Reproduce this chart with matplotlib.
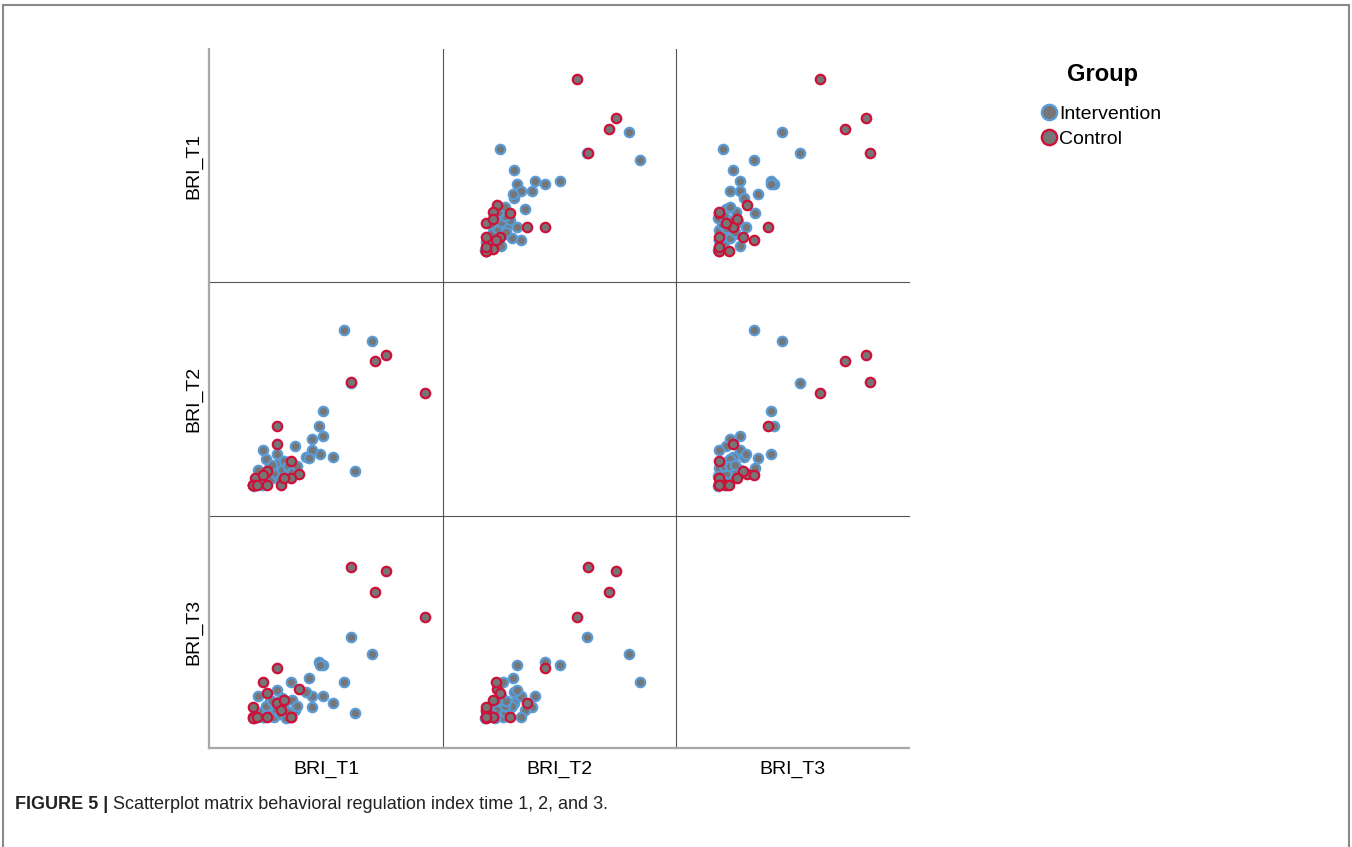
import matplotlib
matplotlib.use("Agg")
import matplotlib.pyplot as plt
from matplotlib.lines import Line2D
from matplotlib.patches import Rectangle

plt.rcParams['font.family'] = ['Liberation Sans', 'DejaVu Sans']

# Behavioral regulation index at three time points, one entry per child
variables = ['BRI_T1', 'BRI_T2', 'BRI_T3']

intervention_t1 = [150, 122, 133, 129, 111.5, 101, 97.5, 101, 98, 90.5, 90.5, 84, 87.5, 73, 41.5, 69,
                   32, 35, 38, 40, 42, 45, 47, 50, 52, 54, 56, 58, 60, 62, 64, 66, 48, 44, 36, 55, 70, 75, 50]
intervention_t2 = [174, 185, 44.5, 132, 58.5, 79.5, 90, 104.5, 62, 66, 76.5, 59, 58, 70, 66, 48,
                   30, 33, 36, 31, 40, 35, 44, 38, 48, 42, 52, 36, 46, 55, 40, 50, 51, 57, 46, 62, 44, 50, 51]
intervention_t3 = [94, 66, 35, 111.5, 45, 52, 86, 83, 83, 52, 41.5, 56, 70, 38, 31, 66.5,
                   30, 31, 33, 36, 31, 40, 35, 44, 31, 38, 46, 34, 50, 40, 30, 36, 47, 42, 52, 58, 48, 42, 47]

control_t1 = [203, 164, 153, 129, 55, 55, 69.3, 77, 69.5, 45, 59, 45, 31, 33, 62.5, 41.5, 31, 31, 35]
control_t2 = [122, 160.5, 154, 133, 72, 90, 55, 42, 38, 45, 31, 30.5, 31, 38, 38, 41, 30.5, 30.5, 31]
control_t3 = [132, 177.5, 156.5, 181.5, 45, 80, 31, 59, 31, 55, 38, 31, 31, 31, 48.5, 66, 41, 30.5, 31]

intervention = [intervention_t1, intervention_t2, intervention_t3]
control = [control_t1, control_t2, control_t3]

W, H = 1352, 847
fig = plt.figure(figsize=(W / 100, H / 100), dpi=100)

col_left = [209, 443, 676]
col_width = [234, 233, 233]
row_top = [49, 282, 516]
row_height = [233, 234, 232]

fill = '#767676'
blue = '#5b9bd5'
red = '#cc1238'
outer_line = '#a8a8a8'
inner_line = '#555555'

for i in range(3):
    for j in range(3):
        ax = fig.add_axes([col_left[j] / W, 1 - (row_top[i] + row_height[i]) / H,
                           col_width[j] / W, row_height[i] / H])
        ax.patch.set_visible(False)
        ax.set_xlim(-12.5, 221)
        ax.set_ylim(0, 233)
        ax.set_xticks([])
        ax.set_yticks([])
        ax.spines['top'].set_visible(False)
        ax.spines['right'].set_visible(False)
        if j == 0:
            ax.spines['left'].set_color(outer_line)
            ax.spines['left'].set_linewidth(1.6)
            ax.set_ylabel(variables[i], fontsize=14, labelpad=5)
        else:
            ax.spines['left'].set_color(inner_line)
            ax.spines['left'].set_linewidth(0.8)
        if i == 2:
            ax.spines['bottom'].set_color(outer_line)
            ax.spines['bottom'].set_linewidth(1.6)
            ax.set_xlabel(variables[j], fontsize=14, labelpad=9)
        else:
            ax.spines['bottom'].set_color(inner_line)
            ax.spines['bottom'].set_linewidth(0.8)
        if i == j:
            continue
        ax.scatter(intervention[j], intervention[i], s=46, c=fill, edgecolors=blue,
                   linewidths=1.6, zorder=2, clip_on=False)
        ax.scatter(control[j], control[i], s=46, c=fill, edgecolors=red,
                   linewidths=1.6, zorder=3, clip_on=False)

# Group legend
fig.text(1103 / W, 1 - 74 / H, 'Group', fontsize=17, fontweight='bold', ha='center', va='center')
handles = [Line2D([], [], ls='none', marker='o', markersize=11, markerfacecolor=fill,
                  markeredgecolor=blue, markeredgewidth=1.7),
           Line2D([], [], ls='none', marker='o', markersize=11, markerfacecolor=fill,
                  markeredgecolor=red, markeredgewidth=1.7)]
leg = fig.legend(handles, ['Intervention', 'Control'], loc='upper left',
                 bbox_to_anchor=(1039 / W, 1 - 105 / H), frameon=False, fontsize=14,
                 handletextpad=0.05, handlelength=1.0, labelspacing=0.4, borderpad=0,
                 borderaxespad=0)

# outer frame of the figure panel
fig.add_artist(Rectangle((3 / W, -0.01), 1346 / W, 1 - 5 / H + 0.01, transform=fig.transFigure,
                         fill=False, edgecolor='#8a8a8a', linewidth=1.5))

# caption
bold = fig.text(15 / W, 1 - 809 / H, 'FIGURE 5 |', fontsize=13, fontweight='bold',
                color='#222222', va='baseline')
fig.canvas.draw()
bb = bold.get_window_extent()
fig.text((bb.x1 + 5) / W, 1 - 809 / H, 'Scatterplot matrix behavioral regulation index time 1, 2, and 3.',
         fontsize=13, color='#222222', va='baseline')

fig.savefig('out.png', dpi=100)
